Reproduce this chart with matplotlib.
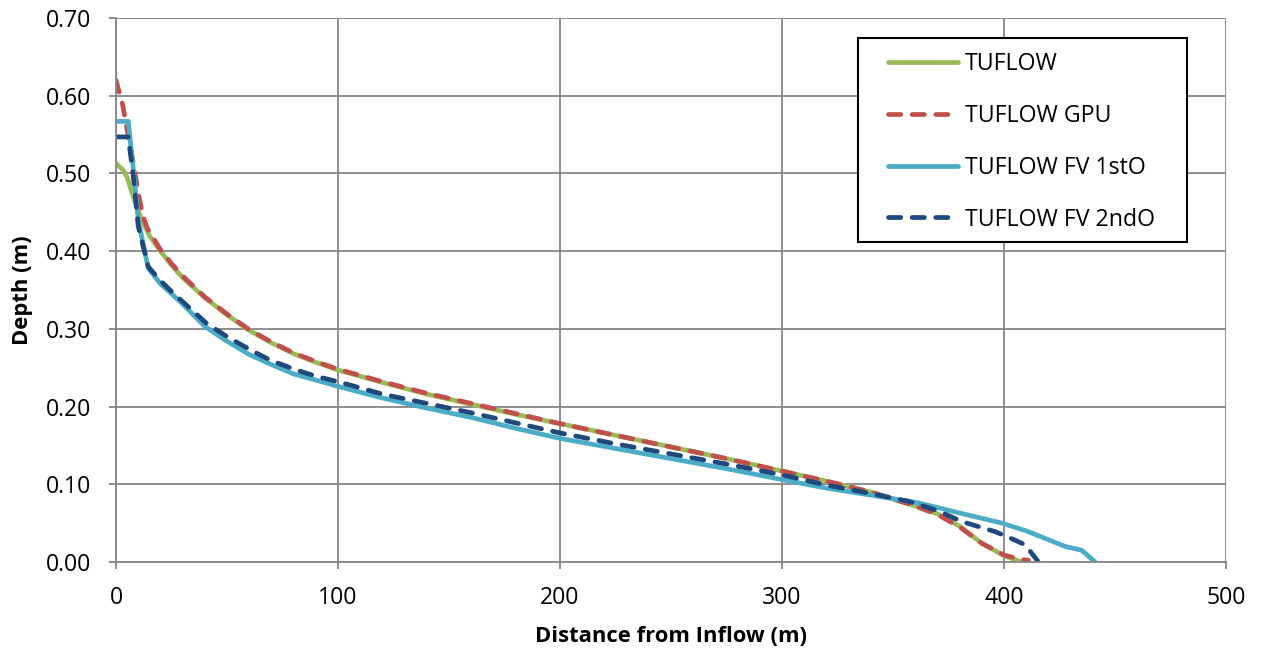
import numpy as np
import matplotlib.pyplot as plt
from matplotlib.patches import Rectangle

plt.rcParams['font.family'] = ['Open Sans', 'DejaVu Sans']

# TUFLOW
x_tf = [0, 3, 5, 8, 10, 12, 15, 20, 25, 30, 40, 50, 60, 70, 80, 90, 100, 120, 140, 160,
        180, 200, 225, 250, 275, 300, 320, 340, 360, 370, 380, 390, 400, 405, 408]
y_tf = [0.513, 0.505, 0.495, 0.468, 0.452, 0.438, 0.420, 0.400, 0.382, 0.366, 0.340, 0.318,
        0.298, 0.282, 0.268, 0.257, 0.247, 0.231, 0.216, 0.203, 0.190, 0.178, 0.163, 0.148,
        0.133, 0.117, 0.104, 0.090, 0.072, 0.062, 0.046, 0.024, 0.008, 0.003, 0.0]

# TUFLOW GPU
x_gpu = [0, 3, 6, 8, 10, 12, 14, 20, 25, 30, 40, 50, 60, 70, 80, 90, 100, 120, 140, 160,
         180, 200, 225, 250, 275, 300, 320, 340, 360, 370, 380, 390, 400, 405, 411]
y_gpu = [0.620, 0.588, 0.540, 0.510, 0.475, 0.447, 0.430, 0.402, 0.384, 0.368, 0.341, 0.319,
         0.299, 0.283, 0.269, 0.258, 0.248, 0.232, 0.217, 0.204, 0.191, 0.178, 0.163, 0.148,
         0.133, 0.117, 0.104, 0.090, 0.072, 0.061, 0.045, 0.024, 0.009, 0.005, 0.002]

# TUFLOW FV 1st order
x_fv1 = [0, 5.5, 8, 10, 14.5, 20, 25, 30, 40, 50, 60, 70, 80, 90, 100, 120, 140, 160, 180,
         200, 225, 250, 275, 300, 320, 340, 361.5, 380, 399, 410, 427.5, 435, 441]
y_fv1 = [0.567, 0.567, 0.500, 0.440, 0.378, 0.358, 0.345, 0.332, 0.303, 0.284, 0.267, 0.254,
         0.242, 0.234, 0.226, 0.211, 0.198, 0.186, 0.172, 0.159, 0.146, 0.133, 0.120, 0.106,
         0.095, 0.086, 0.076, 0.063, 0.050, 0.040, 0.020, 0.015, 0.0]

# TUFLOW FV 2nd order
x_fv2 = [0, 5.5, 7.8, 10, 14.5, 20, 24.3, 30, 40.8, 50, 61.7, 70, 81.2, 90, 100, 120, 140,
         160, 180, 200, 225, 250, 275, 300, 320, 340, 357, 370, 381, 396, 405, 409.5, 415.5]
y_fv2 = [0.547, 0.547, 0.496, 0.432, 0.380, 0.362, 0.350, 0.335, 0.307, 0.290, 0.271, 0.259,
         0.247, 0.239, 0.232, 0.216, 0.204, 0.192, 0.179, 0.166, 0.152, 0.139, 0.126, 0.112,
         0.099, 0.088, 0.078, 0.066, 0.052, 0.039, 0.028, 0.022, 0.0]

fig = plt.figure(figsize=(12.64, 6.53), dpi=100)
ax = fig.add_axes([0.0918, 0.1394, 0.8782, 0.833])

lw = 3.4
ax.plot(x_tf, y_tf, color='#9BBB59', lw=lw, label='TUFLOW', solid_capstyle='round')
ax.plot(x_gpu, y_gpu, color='#C0504D', lw=lw, ls='--', dashes=(2.6, 2.4),
        dash_capstyle='round', label='TUFLOW GPU')
ax.plot(x_fv1, y_fv1, color='#4BACC6', lw=lw, label='TUFLOW FV 1stO', solid_capstyle='round')
ax.plot(x_fv2, y_fv2, color='#1F497D', lw=lw, ls='--', dashes=(2.6, 2.4),
        dash_capstyle='round', label='TUFLOW FV 2ndO')

ax.set_xlim(0, 500)
ax.set_ylim(0, 0.70)
ax.set_xticks(np.arange(0, 501, 100))
ax.set_yticks(np.arange(0, 0.71, 0.1))
ax.set_yticklabels(['%.2f' % v for v in np.arange(0, 0.71, 0.1)])
ax.grid(True, color='#868686', lw=1.3)
ax.set_axisbelow(True)
for s in ['top', 'right']:
    ax.spines[s].set_visible(False)
for s in ['left', 'bottom']:
    ax.spines[s].set_color('#868686')
    ax.spines[s].set_linewidth(1.3)
ax.tick_params(colors='#868686', labelcolor='black', labelsize=16.6, length=5, width=1.3)
ax.tick_params(axis='y', pad=13)
ax.tick_params(axis='x', pad=12)

ax.set_xlabel('Distance from Inflow (m)', fontsize=15.8, fontweight='bold', labelpad=12)
ax.set_ylabel('Depth (m)', fontsize=15.8, fontweight='bold', labelpad=9)

# legend box drawn separately so its padding matches the original
box = Rectangle((0.668, 0.588), 0.297, 0.375, transform=ax.transAxes,
                facecolor='white', edgecolor='black', lw=1.5, zorder=5)
ax.add_patch(box)
leg = ax.legend(loc='upper left', bbox_to_anchor=(0.6955, 0.9375), fontsize=16.7,
                frameon=False, handlelength=3.0, labelspacing=1.2, borderpad=0,
                borderaxespad=0, handletextpad=0.3)
leg.set_zorder(6)

fig.savefig('out.png', dpi=100)
